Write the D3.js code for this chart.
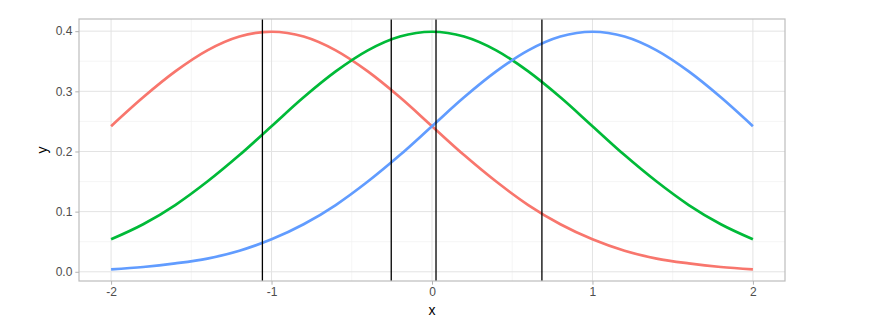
<!DOCTYPE html>
<html>
<head>
<meta charset="utf-8">
<script src="https://cdn.jsdelivr.net/npm/d3@7"></script>
<style>
  body { margin: 0; background: #fff; }
  text { font-family: "Liberation Sans", Arial, sans-serif; }
</style>
</head>
<body>
<div id="chart"></div>
<script>
// x positions shared by the three curves
const xs = [-2, -1.8, -1.6, -1.4, -1.2, -1, -0.8, -0.6, -0.4, -0.2, 0,
            0.2, 0.4, 0.6, 0.8, 1, 1.2, 1.4, 1.6, 1.8, 2];

// curve values
const redY = [0.242, 0.290, 0.333, 0.368, 0.391, 0.399, 0.391, 0.368, 0.333, 0.290, 0.242,
              0.194, 0.150, 0.111, 0.079, 0.054, 0.035, 0.022, 0.014, 0.008, 0.004];
const greenY = [0.054, 0.079, 0.111, 0.150, 0.194, 0.242, 0.290, 0.333, 0.368, 0.391, 0.399,
                0.391, 0.368, 0.333, 0.290, 0.242, 0.194, 0.150, 0.111, 0.079, 0.054];
const blueY = [0.004, 0.008, 0.014, 0.022, 0.035, 0.054, 0.079, 0.111, 0.150, 0.194, 0.242,
               0.290, 0.333, 0.368, 0.391, 0.399, 0.391, 0.368, 0.333, 0.290, 0.242];

// vertical reference lines
const vlines = [-1.057, -0.254, 0.025, 0.685];

const xTicks = [-2, -1, 0, 1, 2];
const yTicks = [0, 0.1, 0.2, 0.3, 0.4];
const xMinor = [-1.5, -0.5, 0.5, 1.5];
const yMinor = [0.05, 0.15, 0.25, 0.35];

const series = [
  { color: "#F8766D", values: redY },
  { color: "#00BA38", values: greenY },
  { color: "#619CFF", values: blueY }
];

// Chart dimensions
const W = 870, H = 318;
const margin = { top: 19, right: 85, bottom: 37, left: 79 };
const width = W - margin.left - margin.right;
const height = H - margin.top - margin.bottom;

const svg = d3.select("#chart")
  .append("svg")
  .attr("width", W)
  .attr("height", H);

const g = svg.append("g")
  .attr("transform", `translate(${margin.left},${margin.top})`);

// Scales with ggplot-style 5% expansion
const x = d3.scaleLinear().domain([-2.2, 2.2]).range([0, width]);
const y = d3.scaleLinear().domain([-0.0153, 0.4202]).range([height, 0]);

// Minor grid
g.append("g").selectAll("line.xm").data(xMinor).enter().append("line")
  .attr("x1", d => x(d)).attr("x2", d => x(d))
  .attr("y1", 0).attr("y2", height)
  .attr("stroke", "#f0f0f0").attr("stroke-width", 0.7);
g.append("g").selectAll("line.ym").data(yMinor).enter().append("line")
  .attr("x1", 0).attr("x2", width)
  .attr("y1", d => y(d)).attr("y2", d => y(d))
  .attr("stroke", "#f0f0f0").attr("stroke-width", 0.7);

// Major grid
g.append("g").selectAll("line").data(xTicks).enter().append("line")
  .attr("x1", d => x(d)).attr("x2", d => x(d))
  .attr("y1", 0).attr("y2", height)
  .attr("stroke", "#e3e3e3").attr("stroke-width", 1);
g.append("g").selectAll("line").data(yTicks).enter().append("line")
  .attr("x1", 0).attr("x2", width)
  .attr("y1", d => y(d)).attr("y2", d => y(d))
  .attr("stroke", "#e3e3e3").attr("stroke-width", 1);

// Curves
const line = d3.line()
  .x((d, i) => x(xs[i]))
  .y(d => y(d))
  .curve(d3.curveMonotoneX);

g.selectAll(".curve")
  .data(series)
  .enter()
  .append("path")
  .attr("class", "curve")
  .attr("d", d => line(d.values))
  .attr("fill", "none")
  .attr("stroke", d => d.color)
  .attr("stroke-width", 2.7);

// Vertical lines
g.append("g").selectAll("line").data(vlines).enter().append("line")
  .attr("x1", d => x(d)).attr("x2", d => x(d))
  .attr("y1", 0).attr("y2", height)
  .attr("stroke", "#000").attr("stroke-width", 1.3);

// Panel border
g.append("rect")
  .attr("width", width).attr("height", height)
  .attr("fill", "none")
  .attr("stroke", "#bdbdbd").attr("stroke-width", 1.2);

// Axes
const xAxis = g.append("g")
  .attr("transform", `translate(0,${height})`)
  .call(d3.axisBottom(x).tickValues(xTicks).tickFormat(d => String(d)).tickSize(3.7).tickPadding(3));
const yAxis = g.append("g")
  .call(d3.axisLeft(y).tickValues(yTicks).tickFormat(d3.format(".1f")).tickSize(3.7).tickPadding(3));

[xAxis, yAxis].forEach(a => {
  a.select(".domain").remove();
  a.selectAll(".tick line").attr("stroke", "#b3b3b3");
  a.selectAll(".tick text")
    .attr("fill", "#4d4d4d")
    .style("font-size", "12px");
});

// Axis titles
svg.append("text")
  .attr("x", margin.left + x(0))
  .attr("y", 315)
  .attr("text-anchor", "middle")
  .style("font-size", "14px")
  .attr("fill", "#000")
  .text("x");

svg.append("text")
  .attr("transform", `translate(47,${margin.top + height / 2}) rotate(-90)`)
  .attr("text-anchor", "middle")
  .style("font-size", "14px")
  .attr("fill", "#000")
  .text("y");
</script>
</body>
</html>
